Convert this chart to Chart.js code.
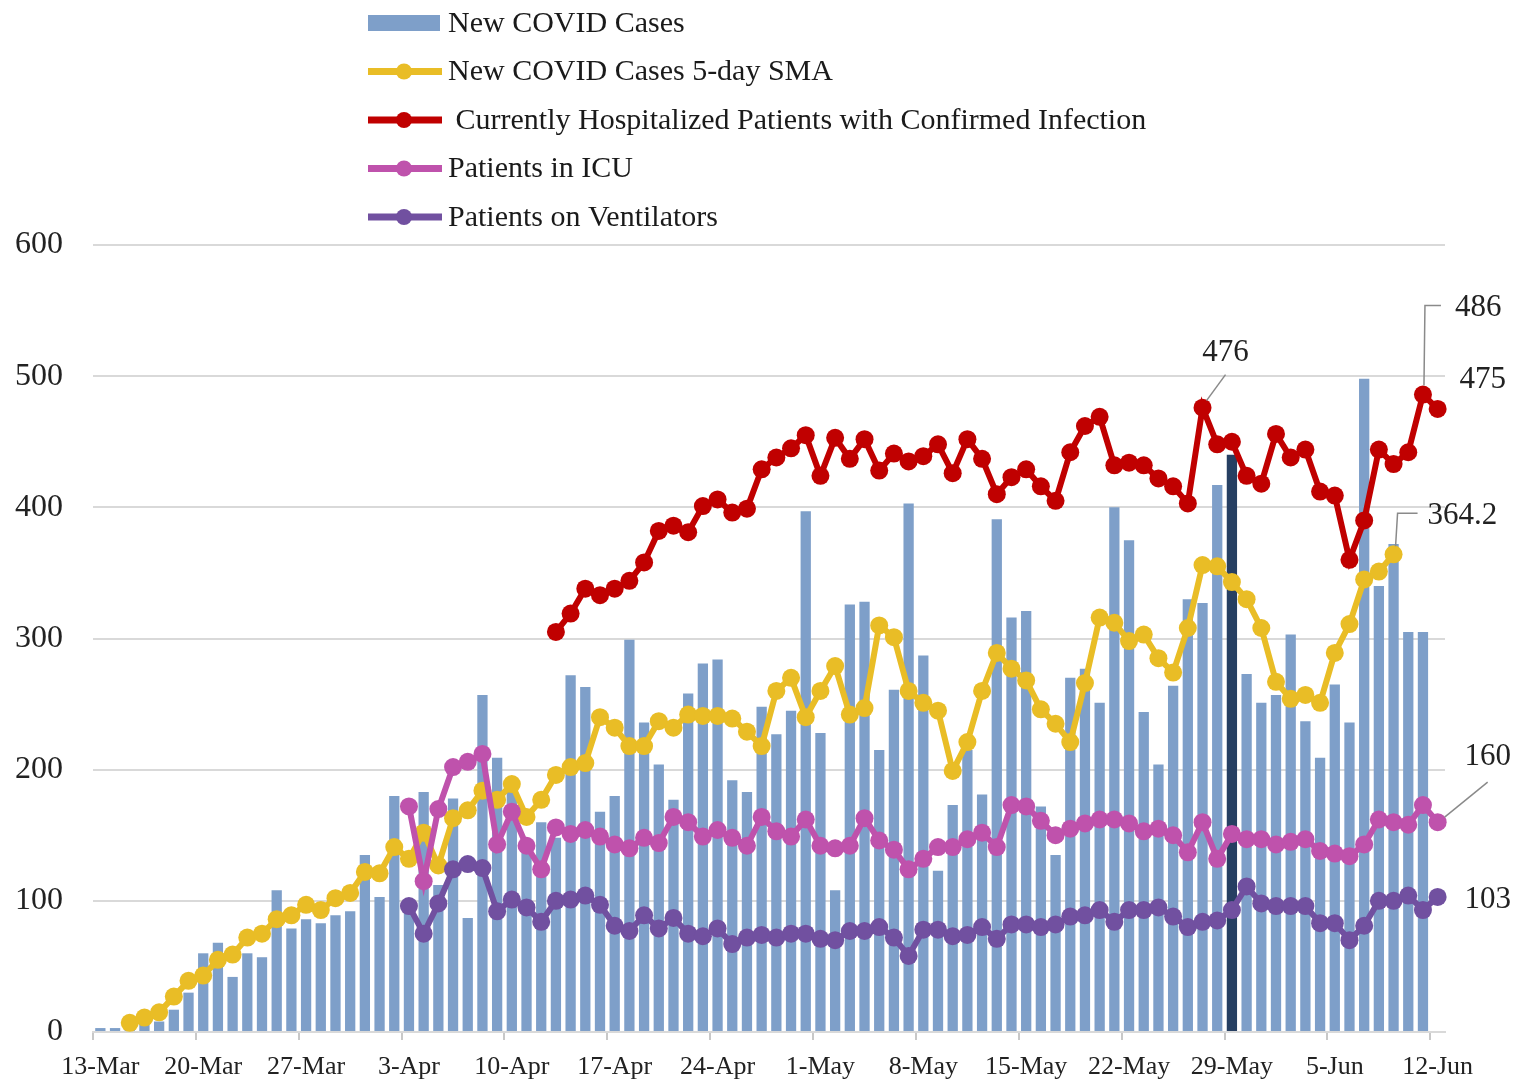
<!DOCTYPE html>
<html>
<head>
<meta charset="utf-8">
<title>COVID cases and hospitalizations</title>
<script src="https://cdn.jsdelivr.net/npm/chart.js@4.4.1/dist/chart.umd.min.js"></script>
<style>
  html, body { margin: 0; padding: 0; background: #fff; }
  #wrap { width: 1518px; height: 1082px; }
</style>
</head>
<body>
<div id="wrap"><canvas id="covidchart"></canvas></div>
<script>
// days on the x axis, 13-Mar to 12-Jun
const days = [
  '13-Mar','14-Mar','15-Mar','16-Mar','17-Mar','18-Mar','19-Mar','20-Mar','21-Mar','22-Mar',
  '23-Mar','24-Mar','25-Mar','26-Mar','27-Mar','28-Mar','29-Mar','30-Mar','31-Mar',
  '1-Apr','2-Apr','3-Apr','4-Apr','5-Apr','6-Apr','7-Apr','8-Apr','9-Apr','10-Apr',
  '11-Apr','12-Apr','13-Apr','14-Apr','15-Apr','16-Apr','17-Apr','18-Apr','19-Apr','20-Apr',
  '21-Apr','22-Apr','23-Apr','24-Apr','25-Apr','26-Apr','27-Apr','28-Apr','29-Apr','30-Apr',
  '1-May','2-May','3-May','4-May','5-May','6-May','7-May','8-May','9-May','10-May',
  '11-May','12-May','13-May','14-May','15-May','16-May','17-May','18-May','19-May','20-May',
  '21-May','22-May','23-May','24-May','25-May','26-May','27-May','28-May','29-May','30-May','31-May',
  '1-Jun','2-Jun','3-Jun','4-Jun','5-Jun','6-Jun','7-Jun','8-Jun','9-Jun','10-Jun','11-Jun','12-Jun'
]

const newCases = [
  3, 3, 5, 7, 8, 17, 30, 60, 68, 42,
  60, 57, 108, 79, 86, 83, 89, 92, 135, 103,
  180, 100, 183, 112, 178, 87, 257, 209, 188, 138,
  160, 148, 272, 263, 168, 180, 299, 236, 204, 177,
  258, 281, 284, 192, 183, 248, 227, 245, 397, 228,
  108, 326, 328, 215, 261, 403, 287, 123, 173, 215,
  181, 391, 316, 321, 172, 135, 270, 277, 251, 400,
  375, 244, 204, 264, 330, 327, 417, 440, 273, 251,
  257, 303, 237, 209, 265, 236, 498, 340, 372, 305,
  305, null
]

// 5-day moving average, 15-Mar to 9-Jun
const sma5 = [
  7, 11, 15, 27, 39, 43, 55, 59,
  72, 75, 86, 89, 97, 93, 102, 106, 122, 121,
  141, 132, 152, 127, 163, 169, 184, 177, 189, 164,
  177, 196, 202, 205, 240, 232, 218, 218, 237, 232,
  242, 241, 241, 239, 229, 218, 260, 270, 240, 260,
  279, 242, 247, 310, 301, 260, 251, 245, 199, 221,
  260, 289, 277, 268, 246, 235, 221, 266, 316, 312,
  298, 303, 285, 274, 308, 356, 355, 343, 330, 308,
  267, 254, 257, 251, 289, 311, 345, 351, 364.2
]

// hospitalized, 13-Apr to 12-Jun
const hospitalized = [
  305, 319, 338, 333, 338, 344, 358, 382, 386,
  381, 401, 406, 396, 399, 429, 438, 445, 455, 424,
  453, 437, 452, 428, 441, 435, 439, 448, 426, 452,
  437, 410, 423, 429, 416, 405, 442, 462, 469, 432,
  434, 432, 422, 416, 403, 476, 448, 450, 424, 418,
  456, 438, 444, 412, 409, 360, 390, 444, 433, 442,
  486, 475
]

// ICU and ventilators, 3-Apr to 12-Jun
const icu = [
  172, 115, 170, 202, 206, 212, 143, 168, 142,
  124, 156, 151, 154, 149, 143, 140, 148, 144, 164,
  160, 149, 154, 148, 142, 164, 153, 149, 162, 142,
  140, 142, 163, 146, 139, 124, 132, 141, 141, 147,
  152, 141, 173, 172, 161, 150, 155, 159, 162, 162,
  159, 153, 155, 150, 137, 160, 132, 151, 147, 147,
  143, 145, 147, 138, 136, 134, 143, 162, 160, 158,
  173, 160
]

const ventilators = [
  96, 75, 98, 124, 128, 125, 92, 101, 95,
  84, 100, 101, 104, 97, 81, 77, 89, 79, 87,
  75, 73, 79, 67, 72, 74, 72, 75, 75, 71,
  70, 77, 77, 80, 72, 58, 78, 78, 73, 74,
  80, 71, 82, 82, 80, 82, 88, 89, 93, 84,
  93, 93, 95, 88, 80, 84, 85, 93, 111, 98,
  96, 96, 96, 83, 83, 70, 81, 100, 100, 104,
  93, 103
]

const yTicks = [0, 100, 200, 300, 400, 500, 600]
const highlightDay = '29-May'
const labelEvery = 7

const serif = "'Liberation Serif', 'Times New Roman', serif"
const barColor = 'rgb(126,159,201)'
const darkBar = 'rgb(38,63,98)'

// put a series at the right day
function fromDay(day, values){
    let start = days.indexOf(day)
    let out = []
    for (let i = 0; i < days.length; i++){
        let v = values[i - start]
        out.push(v === undefined ? null : v)
    }
    return out
}

// labels next to some points
const callouts = [
    { ds: 2, day: '27-May', text: '476', tx: 23, ty: -55, align: 'center', line: [[4,-7],[23,-33]] },
    { ds: 2, day: '11-Jun', text: '486', tx: 32, ty: -87, align: 'left', line: [[1,-9],[2,-89],[18,-89]] },
    { ds: 2, day: '12-Jun', text: '475', tx: 45, ty: -29, align: 'center' },
    { ds: 1, day: '9-Jun', text: '364.2', tx: 34, ty: -38, align: 'left', line: [[2,-8],[4,-41],[24,-41]] },
    { ds: 3, day: '12-Jun', text: '160', tx: 50, ty: -65, align: 'center', line: [[7,-5],[50,-40]] },
    { ds: 4, day: '12-Jun', text: '103', tx: 50, ty: 3, align: 'center' }
]

const calloutPlugin = {
    id: 'callouts',
    afterDatasetsDraw(chart){
        const ctx = chart.ctx
        ctx.save()
        ctx.font = '31px ' + serif
        ctx.textBaseline = 'middle'
        callouts.forEach(function(c){
            let el = chart.getDatasetMeta(c.ds).data[days.indexOf(c.day)]
            if (!el) return
            let px = el.x, py = el.y
            if (c.line){
                ctx.strokeStyle = '#8a8a8a'
                ctx.lineWidth = 1.5
                ctx.beginPath()
                c.line.forEach(function(p, k){
                    if (k == 0) ctx.moveTo(px + p[0], py + p[1])
                    else ctx.lineTo(px + p[0], py + p[1])
                })
                ctx.stroke()
            }
            ctx.fillStyle = '#222'
            ctx.textAlign = c.align
            ctx.fillText(c.text, px + c.tx, py + c.ty)
        })
        ctx.restore()
    }
}

// legend stacked in one column above the plot
const legendPlugin = {
    id: 'columnLegend',
    afterDraw(chart){
        const ctx = chart.ctx
        ctx.save()
        ctx.font = '30px ' + serif
        ctx.textBaseline = 'middle'
        ctx.textAlign = 'left'
        chart.data.datasets.forEach(function(ds, k){
            let y = 23 + k * 48.5
            if (ds.type == 'line'){
                ctx.strokeStyle = ds.borderColor
                ctx.lineWidth = 7
                ctx.beginPath()
                ctx.moveTo(368, y)
                ctx.lineTo(442, y)
                ctx.stroke()
                ctx.fillStyle = ds.borderColor
                ctx.beginPath()
                ctx.arc(404, y, 8, 0, Math.PI * 2)
                ctx.fill()
            } else {
                ctx.fillStyle = barColor
                ctx.fillRect(368, y - 8, 72, 16)
            }
            ctx.fillStyle = '#1a1a1a'
            ctx.fillText(ds.label, 448, y + 1)
        })
        ctx.restore()
    }
}

function lineSet(label, values, color, order){
    return {
        type: 'line',
        label: label,
        data: values,
        borderColor: color,
        backgroundColor: color,
        pointBackgroundColor: color,
        pointBorderWidth: 0,
        pointRadius: 9,
        pointHoverRadius: 9,
        borderWidth: 6,
        tension: 0,
        order: order
    }
}

const canvas = document.getElementById('covidchart')
new Chart(canvas, {
    type: 'bar',
    data: {
        labels: days,
        datasets: [
            {
                label: 'New COVID Cases',
                data: newCases,
                backgroundColor: days.map(d => d == highlightDay ? darkBar : barColor),
                barPercentage: 1,
                categoryPercentage: 0.7,
                order: 5
            },
            lineSet('New COVID Cases 5-day SMA', fromDay('15-Mar', sma5), 'rgb(233,189,38)', 4),
            lineSet(' Currently Hospitalized Patients with Confirmed Infection', fromDay('13-Apr', hospitalized), 'rgb(192,0,0)', 3),
            lineSet('Patients in ICU', fromDay('3-Apr', icu), 'rgb(191,82,172)', 2),
            lineSet('Patients on Ventilators', fromDay('3-Apr', ventilators), 'rgb(113,80,160)', 1)
        ]
    },
    options: {
        responsive: true,
        maintainAspectRatio: false,
        animation: false,
        layout: {
            padding: { left: 12, right: 73, top: 245, bottom: 0 }
        },
        plugins: {
            legend: { display: false },
            tooltip: { enabled: false }
        },
        scales: {
            x: {
                afterFit: function(scale){ scale.height = 50 },
                grid: {
                    drawOnChartArea: false,
                    drawTicks: true,
                    tickLength: 8,
                    lineWidth: 2,
                    color: function(c){
                        return c.index % labelEvery == 0 ? '#c8c8c8' : 'rgba(0,0,0,0)'
                    }
                },
                border: { display: true, color: '#d9d9d9', width: 2 },
                ticks: {
                    autoSkip: false,
                    maxRotation: 0,
                    padding: 12,
                    color: '#222',
                    font: { family: serif, size: 26 },
                    callback: function(v, i){
                        return i % labelEvery == 0 ? days[i] : ''
                    }
                }
            },
            y: {
                min: yTicks[0],
                max: yTicks[yTicks.length - 1],
                afterFit: function(scale){ scale.width = 81 },
                afterBuildTicks: function(scale){
                    scale.ticks = yTicks.map(v => ({ value: v }))
                },
                grid: { color: '#d9d9d9', lineWidth: 2, drawTicks: false },
                border: { display: false },
                ticks: {
                    padding: 30,
                    color: '#222',
                    font: { family: serif, size: 32 }
                }
            }
        }
    },
    plugins: [calloutPlugin, legendPlugin]
})
</script>
</body>
</html>
